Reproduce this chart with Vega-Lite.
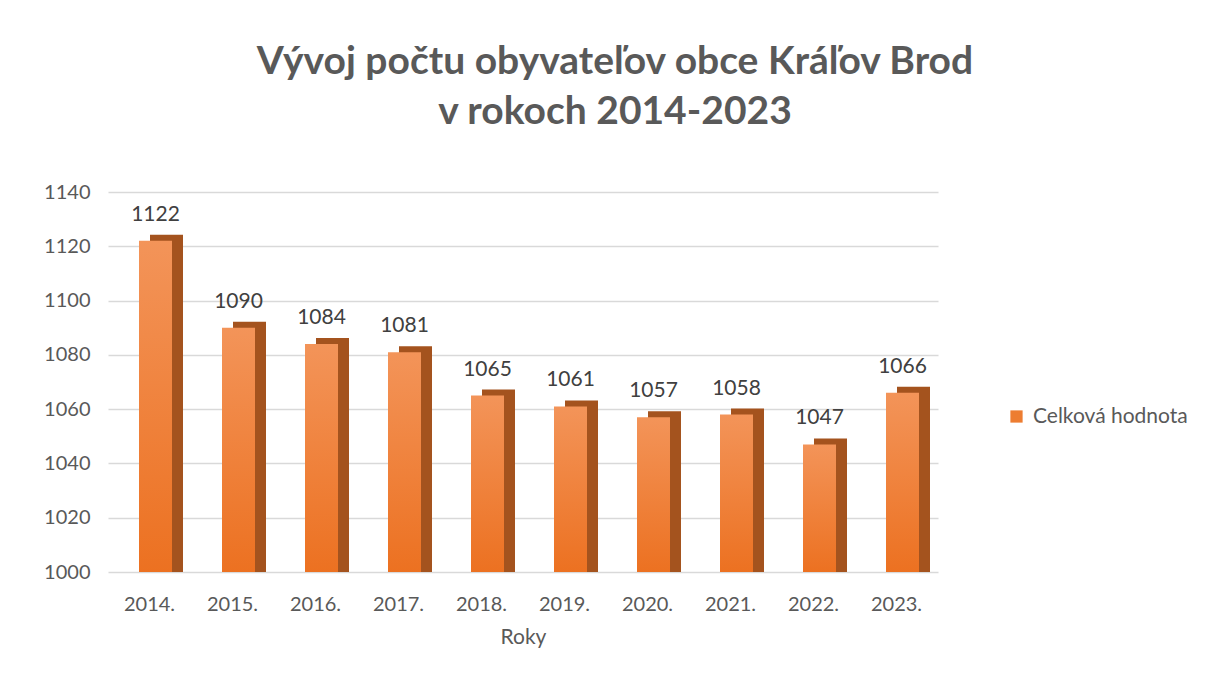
{
  "$schema": "https://vega.github.io/schema/vega-lite/v6.json",
  "autosize": "none",
  "width": 830,
  "height": 380,
  "padding": {"left": 108, "top": 192, "right": 268, "bottom": 116},
  "background": "white",
  "config": {
    "view": {"stroke": null},
    "font": "Lato"
  },
  "title": {
    "text": ["Vývoj počtu obyvateľov obce Kráľov Brod", "v rokoch 2014-2023"],
    "font": "Lato",
    "fontSize": 39,
    "fontWeight": "bold",
    "color": "#595959",
    "lineHeight": 50,
    "anchor": "middle",
    "frame": "group",
    "dx": 92,
    "offset": 50
  },
  "data": {
    "values": [
      {"rok": "2014.", "v": 1122, "s": "Celková hodnota"},
      {"rok": "2015.", "v": 1090, "s": "Celková hodnota"},
      {"rok": "2016.", "v": 1084, "s": "Celková hodnota"},
      {"rok": "2017.", "v": 1081, "s": "Celková hodnota"},
      {"rok": "2018.", "v": 1065, "s": "Celková hodnota"},
      {"rok": "2019.", "v": 1061, "s": "Celková hodnota"},
      {"rok": "2020.", "v": 1057, "s": "Celková hodnota"},
      {"rok": "2021.", "v": 1058, "s": "Celková hodnota"},
      {"rok": "2022.", "v": 1047, "s": "Celková hodnota"},
      {"rok": "2023.", "v": 1066, "s": "Celková hodnota"}
    ]
  },
  "encoding": {
    "x": {
      "field": "rok", "type": "nominal", "sort": null,
      "scale": {"paddingInner": 0.6, "paddingOuter": 0.3},
      "axis": {
        "title": "Roky", "titleFontSize": 21, "titleFontWeight": "normal", "titleColor": "#595959",
        "titlePadding": 12, "labelAngle": 0, "labelFontSize": 20, "labelColor": "#595959",
        "labelPadding": 22, "ticks": false, "domain": false
      }
    },
    "y": {
      "field": "v", "type": "quantitative",
      "scale": {"domain": [1000, 1140], "zero": false},
      "axis": {
        "title": null, "values": [1000, 1020, 1040, 1060, 1080, 1100, 1120, 1140], "format": "d",
        "labelFontSize": 20, "labelColor": "#595959", "labelPadding": 18,
        "ticks": false, "domain": false, "gridColor": "#d9d9d9", "gridWidth": 1.5
      }
    }
  },
  "layer": [
    {
      "mark": {"type": "bar", "color": "#a4531e", "xOffset": 17, "yOffset": -6, "width": 33},
      "encoding": {"y2": {"datum": 1000}}
    },
    {
      "mark": {
        "type": "bar", "width": 33, "xOffset": 6,
        "color": {
          "gradient": "linear", "x1": 0, "y1": 0, "x2": 0, "y2": 1,
          "stops": [{"offset": 0, "color": "#f39459"}, {"offset": 1, "color": "#ec7121"}]
        }
      },
      "encoding": {"y2": {"datum": 1000}}
    },
    {
      "mark": {"type": "text", "dy": -26, "dx": 6, "fontSize": 21, "color": "#404040"},
      "encoding": {"text": {"field": "v", "type": "quantitative"}}
    },
    {
      "transform": [{"filter": "datum.v < 0"}],
      "mark": {"type": "square"},
      "encoding": {
        "color": {
          "field": "s", "type": "nominal",
          "scale": {"domain": ["Celková hodnota"], "range": ["#ED7D31"]},
          "legend": {
            "title": null, "orient": "none", "legendX": 898, "legendY": 214,
            "symbolType": "square", "symbolSize": 150, "symbolStrokeWidth": 0, "symbolOpacity": 1,
            "labelFontSize": 21, "labelColor": "#595959", "labelOffset": 6
          }
        }
      }
    }
  ]
}
